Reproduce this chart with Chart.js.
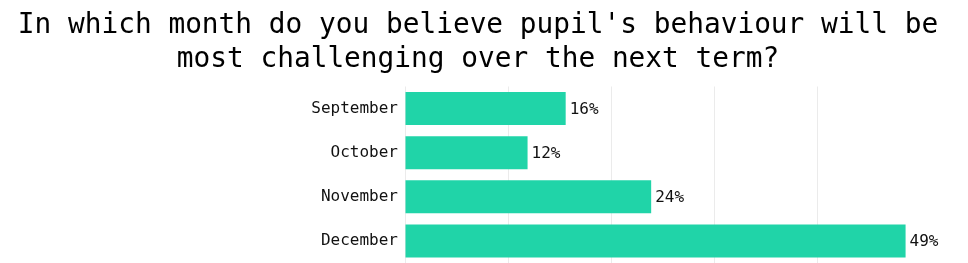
<!DOCTYPE html>
<html>
<head>
<meta charset="utf-8">
<script src="https://cdn.jsdelivr.net/npm/chart.js@4/dist/chart.umd.min.js"></script>
<style>
html,body{margin:0;padding:0;background:#fff;overflow:hidden;}
#wrap{width:968px;height:263px;position:relative;}
</style>
</head>
<body>
<div id="wrap"><canvas id="c"></canvas></div>
<script>
const titleLines = ["In which month do you believe pupil's behaviour will be", "most challenging over the next term?"];
const categories = ["September", "October", "November", "December"];
const values = [15.6, 11.9, 23.9, 48.6];
const valueLabels = ["16%", "12%", "24%", "49%"];
const gridMax = 50;
const axisStep = 10;

const FONT = "'DejaVu Sans Mono', 'Liberation Mono', monospace";

// layout: plot from x=405 to the 50% gridline at x=920, canvas padding keeps title centred
const PAD_L = 17, PAD_R = 29, PLOT_LEFT = 405, GRID_END = 920, CANVAS_W = 968;
const xMax = gridMax * (CANVAS_W - PAD_R - PLOT_LEFT) / (GRID_END - PLOT_LEFT);

const barLabels = {
  id: 'barLabels',
  afterDatasetsDraw(chart) {
    const ctx = chart.ctx;
    const meta = chart.getDatasetMeta(0);
    ctx.save();
    ctx.font = "16px " + FONT;
    ctx.fillStyle = "#111";
    ctx.textAlign = "left";
    ctx.textBaseline = "middle";
    meta.data.forEach((bar, i) => {
      ctx.fillText(valueLabels[i], bar.x + 4, bar.y + 1);
    });
    ctx.restore();
  }
};

new Chart(document.getElementById('c'), {
  type: 'bar',
  data: {
    labels: categories,
    datasets: [{
      data: values,
      backgroundColor: '#20D4A8',
      borderWidth: 0,
      barPercentage: 0.75,
      categoryPercentage: 1.0
    }]
  },
  options: {
    indexAxis: 'y',
    responsive: true,
    maintainAspectRatio: false,
    animation: false,
    layout: { padding: { left: PAD_L, right: PAD_R, top: 0, bottom: 0 } },
    plugins: {
      legend: { display: false },
      tooltip: { enabled: false },
      title: {
        display: true,
        text: titleLines,
        color: '#000',
        font: { family: FONT, size: 27.8, weight: 'normal', lineHeight: 1.25 },
        padding: { top: 8, bottom: 9 }
      }
    },
    scales: {
      x: {
        min: 0,
        max: xMax,
        ticks: { display: false, stepSize: axisStep },
        afterBuildTicks(s) { s.ticks = s.ticks.filter(t => t.value <= gridMax + 1e-9); },
        grid: { color: '#ebebeb', drawTicks: false, lineWidth: 1 },
        border: { display: false },
        afterFit(s) { s.height = 0; }
      },
      y: {
        ticks: { color: '#111', padding: 7, font: { family: FONT, size: 16 } },
        grid: { display: false, drawTicks: false },
        border: { display: false },
        afterFit(s) { s.width = PLOT_LEFT - PAD_L; s.paddingTop = 0; s.paddingBottom = 0; }
      }
    }
  },
  plugins: [barLabels]
});
</script>
</body>
</html>
